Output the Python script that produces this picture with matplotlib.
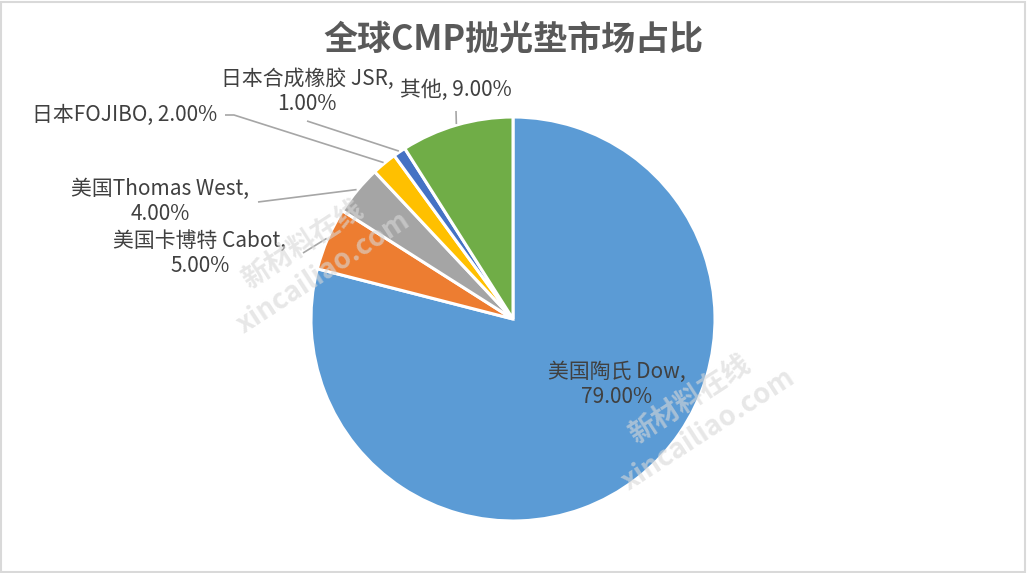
import numpy as np
import matplotlib
matplotlib.use("Agg")
import matplotlib.pyplot as plt
from matplotlib.patches import Rectangle

plt.rcParams['font.family'] = ['Noto Sans CJK SC', 'DejaVu Sans']

# ---- data ----
title = "全球CMP抛光垫市场占比"
companies = ["美国陶氏 Dow", "美国卡博特 Cabot", "美国Thomas West", "日本FOJIBO", "日本合成橡胶 JSR", "其他"]
shares = [79.0, 5.0, 4.0, 2.0, 1.0, 9.0]
colors = ["#5B9BD5", "#ED7D31", "#A5A5A5", "#FFC000", "#4472C4", "#70AD47"]

W, H = 1027, 573
fig = plt.figure(figsize=(W / 100, H / 100), dpi=100)
ax = fig.add_axes([0, 0, 1, 1])
ax.set_xlim(0, W)
ax.set_ylim(0, H)
ax.set_aspect('equal')
ax.axis('off')

cx, cy, R = 513, H - 319, 202
wedges, _ = ax.pie(shares, colors=colors, startangle=90, counterclock=False,
                   center=(cx, cy), radius=R,
                   wedgeprops=dict(edgecolor='white', linewidth=2.2))
ax.set_xlim(0, W)
ax.set_ylim(0, H)

# border
fig.patches.append(Rectangle((0.001, 0.002), 0.997, 0.995, transform=fig.transFigure,
                             fill=False, edgecolor='#d9d9d9', linewidth=1.5))

ax.text(cx, H - 39, title, ha='center', va='center', fontsize=24.5,
        fontweight='bold', color='#595959')

tc = '#404040'
fs = 15
lc = '#a6a6a6'

def lab(i):
    return f"{companies[i]},", f"{shares[i]:.2f}%"

# label layout: (text x, text y, two-line?, leader start points)
layout = {
    0: dict(x=617, y=384, two=True, lead=None),
    1: dict(x=200, y=253, two=True, lead=[(303, 253)]),
    2: dict(x=160, y=201, two=True, lead=[(258, 202)]),
    3: dict(x=125, y=115, two=False, lead=[(225, 115), (234, 115)]),
    4: dict(x=307, y=91, two=True, lead=[(307, 121)]),
    5: dict(x=456, y=90, two=False, lead=[(456, 111)]),
}

for i, w in enumerate(wedges):
    L = layout[i]
    a, b = lab(i)
    s = f"{a}\n{b}" if L['two'] else f"{a} {b}"
    ax.text(L['x'], H - L['y'], s, ha='center', va='center', multialignment='center',
            fontsize=fs, color=tc, linespacing=1.18, zorder=5)
    if L['lead']:
        mid = np.deg2rad((w.theta1 + w.theta2) / 2)
        ex = cx + R * 1.005 * np.cos(mid)
        ey = cy + R * 1.005 * np.sin(mid)
        pts = [(px, H - py) for px, py in L['lead']] + [(ex, ey)]
        xs, ys = zip(*pts)
        ax.plot(xs, ys, color=lc, lw=1.2, solid_capstyle='butt', zorder=4)

# watermarks
for (x1, y1, x2, y2) in [(303, 245, 323, 273), (690, 400, 708, 430)]:
    ax.text(x1, H - y1, "新材料在线", rotation=33, ha='center', va='center',
            fontsize=20, fontweight='bold', color='#d8d8d8', alpha=0.6, zorder=6)
    ax.text(x2, H - y2, "xincailiao.com", rotation=33, ha='center', va='center',
            fontsize=20, fontweight='bold', color='#d8d8d8', alpha=0.6, zorder=6)

fig.savefig("out.png", dpi=100, facecolor='white')
